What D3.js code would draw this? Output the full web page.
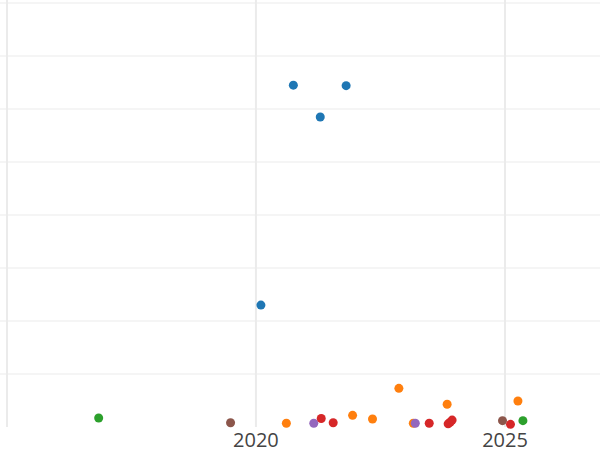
<!DOCTYPE html>
<html>
<head>
<meta charset="utf-8">
<script src="https://cdn.jsdelivr.net/npm/d3@7"></script>
<style>
  body { margin: 0; background: #fff; }
  svg { display: block; font-family: "Open Sans", sans-serif; }
</style>
</head>
<body>
<svg id="chart" width="600" height="450"></svg>
<script>
/* data: date as decimal year, value, colour group */
const years = [2016.84, 2019.49, 2020.61, 2021.16, 2021.31, 2021.55, 2021.94, 2022.34, 2022.87,
               2023.16, 2023.20, 2023.48, 2023.84, 2023.86, 2023.90, 2023.94, 2024.95, 2025.11,
               2025.26, 2025.36, 2020.10, 2020.75, 2021.29, 2021.81];
const values = [1.7, 0.8, 0.7, 0.7, 1.6, 0.8, 2.2, 1.5, 7.3,
                0.7, 0.7, 0.7, 4.3, 0.6, 0.9, 1.3, 1.2, 0.5,
                4.9, 1.2, 23.0, 64.5, 58.5, 64.4];
const groups = ["green", "brown", "orange", "purple", "red", "red", "orange", "orange", "orange",
                "orange", "purple", "red", "orange", "red", "red", "red", "brown", "red",
                "orange", "green", "blue", "blue", "blue", "blue"];
const yTicks = [0, 10, 20, 30, 40, 50, 60, 70, 80];
const xTicks = [2015, 2020, 2025];

let colorScale = d3.scaleOrdinal()
    .domain(["blue", "orange", "green", "red", "purple", "brown"])
    .range(["#1f77b4", "#ff7f0e", "#2ca02c", "#d62728", "#9467bd", "#8c564b"]);

let svg = d3.select("#chart");
let width = +svg.attr("width");
let height = +svg.attr("height");

function toDate(y) {
    let yr = Math.floor(y);
    let start = new Date(yr, 0, 1), end = new Date(yr + 1, 0, 1);
    return new Date(+start + (y - yr) * (end - start));
}

// 2015 sits at x=7, 2025 at x=505
let x = d3.scaleTime()
    .domain([toDate(2015), toDate(2025)])
    .range([7, 505]);
let y = d3.scaleLinear()
    .domain([0, 80])
    .range([427, 3]);

let data = years.map((d, i) => ({date: toDate(d), value: values[i], group: groups[i]}));

// gridlines
svg.append("g")
    .selectAll("line")
    .data(yTicks.slice(1))
    .enter().append("line")
    .attr("x1", 0).attr("x2", width)
    .attr("y1", d => y(d)).attr("y2", d => y(d))
    .attr("stroke", "#ebebeb").attr("stroke-width", 1);

svg.append("g")
    .selectAll("line")
    .data(xTicks)
    .enter().append("line")
    .attr("x1", d => x(toDate(d))).attr("x2", d => x(toDate(d)))
    .attr("y1", 0).attr("y2", y(0))
    .attr("stroke", "#ebebeb").attr("stroke-width", 2);

// x tick labels (2015 label falls off the left edge)
svg.append("g")
    .selectAll("text")
    .data(xTicks.slice(1))
    .enter().append("text")
    .attr("x", d => x(toDate(d)))
    .attr("y", 446.5)
    .attr("text-anchor", "middle")
    .attr("fill", "#444")
    .style("font-size", "20px")
    .text(d => d);

// points
svg.append("g")
    .selectAll("circle")
    .data(data)
    .enter().append("circle")
    .attr("cx", d => x(d.date))
    .attr("cy", d => y(d.value))
    .attr("r", 4.5)
    .attr("fill", d => colorScale(d.group));
</script>
</body>
</html>
